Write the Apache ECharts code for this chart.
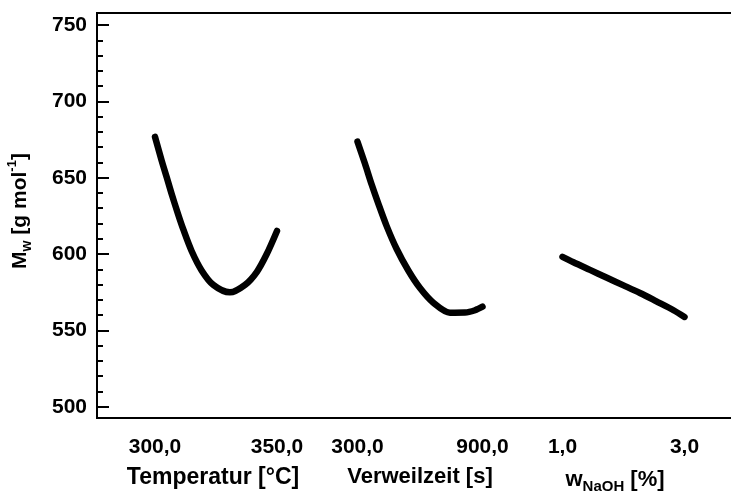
<!DOCTYPE html>
<html>
<head>
<meta charset="utf-8">
<script src="https://cdn.jsdelivr.net/npm/echarts@6/dist/echarts.min.js"></script>
<style>
  html, body { margin: 0; padding: 0; background: #fff; }
  #chart { width: 731px; height: 493px; }
</style>
</head>
<body>
<div id="chart"></div>
<script>
// Profile of M_w against three process factors
const tempX  = [300, 302.7, 304.8, 306.8, 309.5, 311.6, 315.0, 319.1, 323.9, 330.7, 336.9, 341.7, 345.8, 350];
const tempMw = [676.8, 661.4, 650.3, 639.5, 625.9, 616.1, 602.0, 589.3, 579.8, 574.9, 579.8, 588.2, 600.0, 615.1];

const timeX  = [300, 336, 368, 400, 440, 488, 544, 600, 664, 744, 816, 864, 900];
const timeMw = [673.6, 659.1, 645.5, 633.0, 618.3, 603.3, 589.2, 577.7, 568.1, 561.6, 561.7, 563.2, 565.5];

const naohX  = [1.0, 1.18, 1.45, 1.72, 2.0, 2.27, 2.54, 2.82, 3.0];
const naohMw = [598.2, 594.6, 589.6, 584.6, 579.5, 574.5, 569.0, 563.2, 558.8];

const yMajorTicks = [500, 550, 600, 650, 700, 750];
const yMinorTicks = [510, 520, 530, 540, 560, 570, 580, 590, 610, 620, 630, 640,
                     660, 670, 680, 690, 710, 720, 730, 740];
const tempTicks = [300, 350];
const timeTicks = [300, 900];
const naohTicks = [1, 3];

const Y_MIN = 492.6, Y_MAX = 757.9;
const FONT = '"Liberation Sans", Arial, sans-serif';

const fmt = v => v.toFixed(1).replace('.', ',');

const chart = echarts.init(document.getElementById('chart'), null, { renderer: 'canvas' });

const panelGrid = (left, width) => ({
  left: left, width: width, top: 13, bottom: 75, outerBoundsMode: 'none'
});

const nameStyle = (size, extra) => Object.assign({
  fontFamily: FONT, fontWeight: 'bold', fontSize: size, color: '#000'
}, extra || {});

const panelX = (gridIndex, min, max, ticks, name, nameTextStyle) => ({
  type: 'value', gridIndex, min, max,
  axisLine: { show: false }, axisTick: { show: false }, splitLine: { show: false },
  axisLabel: {
    customValues: ticks, formatter: fmt, margin: 19,
    fontFamily: FONT, fontWeight: 'bold', fontSize: 21, color: '#000'
  },
  name: name, nameLocation: 'middle', nameGap: 48,
  nameTextStyle: nameTextStyle
});

const hiddenY = gridIndex => ({
  type: 'value', gridIndex, min: Y_MIN, max: Y_MAX, show: false
});

// panels 1..3 use xAxis 1..3 and yAxis 2..4
const curve = (idx, xs, ys) => ({
  type: 'line', xAxisIndex: idx, yAxisIndex: idx + 1,
  data: xs.map((x, i) => [x, ys[i]]),
  smooth: 0.3, showSymbol: false, clip: false, silent: true,
  lineStyle: { color: '#000', width: 6.5, cap: 'round', join: 'round' }
});

chart.setOption({
  animation: false,
  backgroundColor: '#fff',
  grid: [
    { left: 97, right: -11, top: 13, bottom: 75, show: true,
      borderColor: '#000', borderWidth: 2, outerBoundsMode: 'none' },
    panelGrid(155, 122),
    panelGrid(357.5, 125),
    panelGrid(562.5, 122)
  ],
  xAxis: [
    { type: 'value', gridIndex: 0, min: 0, max: 1, show: false },
    panelX(1, 300, 350, tempTicks, 'Temperatur [°C]', nameStyle(23, { padding: [0, 6, 0, 0] })),
    panelX(2, 300, 900, timeTicks, 'Verweilzeit [s]', nameStyle(22)),
    panelX(3, 1, 3, naohTicks, '{w|w}{sub|NaOH}{n| [%]}', nameStyle(22, {
      padding: [0, 17, 0, 0],
      rich: {
        w: nameStyle(22, { lineHeight: 28, verticalAlign: 'middle' }),
        sub: nameStyle(15, { lineHeight: 14, verticalAlign: 'bottom' }),
        n: nameStyle(22, { lineHeight: 28, verticalAlign: 'middle' })
      }
    }))
  ],
  yAxis: [
    {
      type: 'value', gridIndex: 0, position: 'left', min: Y_MIN, max: Y_MAX,
      splitLine: { show: false },
      axisLine: { show: true, lineStyle: { color: '#000', width: 2 } },
      axisTick: { show: true, inside: true, length: 12, customValues: yMajorTicks,
                  lineStyle: { color: '#000', width: 2 } },
      axisLabel: { customValues: yMajorTicks, margin: 10, fontFamily: FONT,
                   fontWeight: 'bold', fontSize: 21, color: '#000' },
      name: '{m|M}{sub|w}{n| [g mol}{sup|-1}{n|]}',
      nameLocation: 'middle', nameGap: 63,
      nameTextStyle: nameStyle(21, {
        padding: [0, 0, 0, 9],
        rich: {
          m: nameStyle(21, { lineHeight: 28, verticalAlign: 'middle' }),
          sub: nameStyle(14, { lineHeight: 14, verticalAlign: 'bottom' }),
          n: nameStyle(21, { lineHeight: 28, verticalAlign: 'middle' }),
          sup: nameStyle(13, { lineHeight: 13, verticalAlign: 'top' })
        }
      })
    },
    {
      type: 'value', gridIndex: 0, position: 'left', min: Y_MIN, max: Y_MAX,
      splitLine: { show: false }, axisLine: { show: false },
      axisLabel: { show: false },
      axisTick: { show: true, inside: true, length: 6, customValues: yMinorTicks,
                  lineStyle: { color: '#000', width: 2 } }
    },
    hiddenY(1),
    hiddenY(2),
    hiddenY(3),
    {
      type: 'value', gridIndex: 0, position: 'right', min: Y_MIN, max: Y_MAX,
      splitLine: { show: false }, axisLine: { show: false },
      axisLabel: { show: false },
      axisTick: { show: true, inside: true, length: 3, customValues: yMajorTicks,
                  lineStyle: { color: '#000', width: 2 } }
    }
  ],
  series: [
    curve(1, tempX, tempMw),
    curve(2, timeX, timeMw),
    curve(3, naohX, naohMw)
  ]
});
</script>
</body>
</html>
